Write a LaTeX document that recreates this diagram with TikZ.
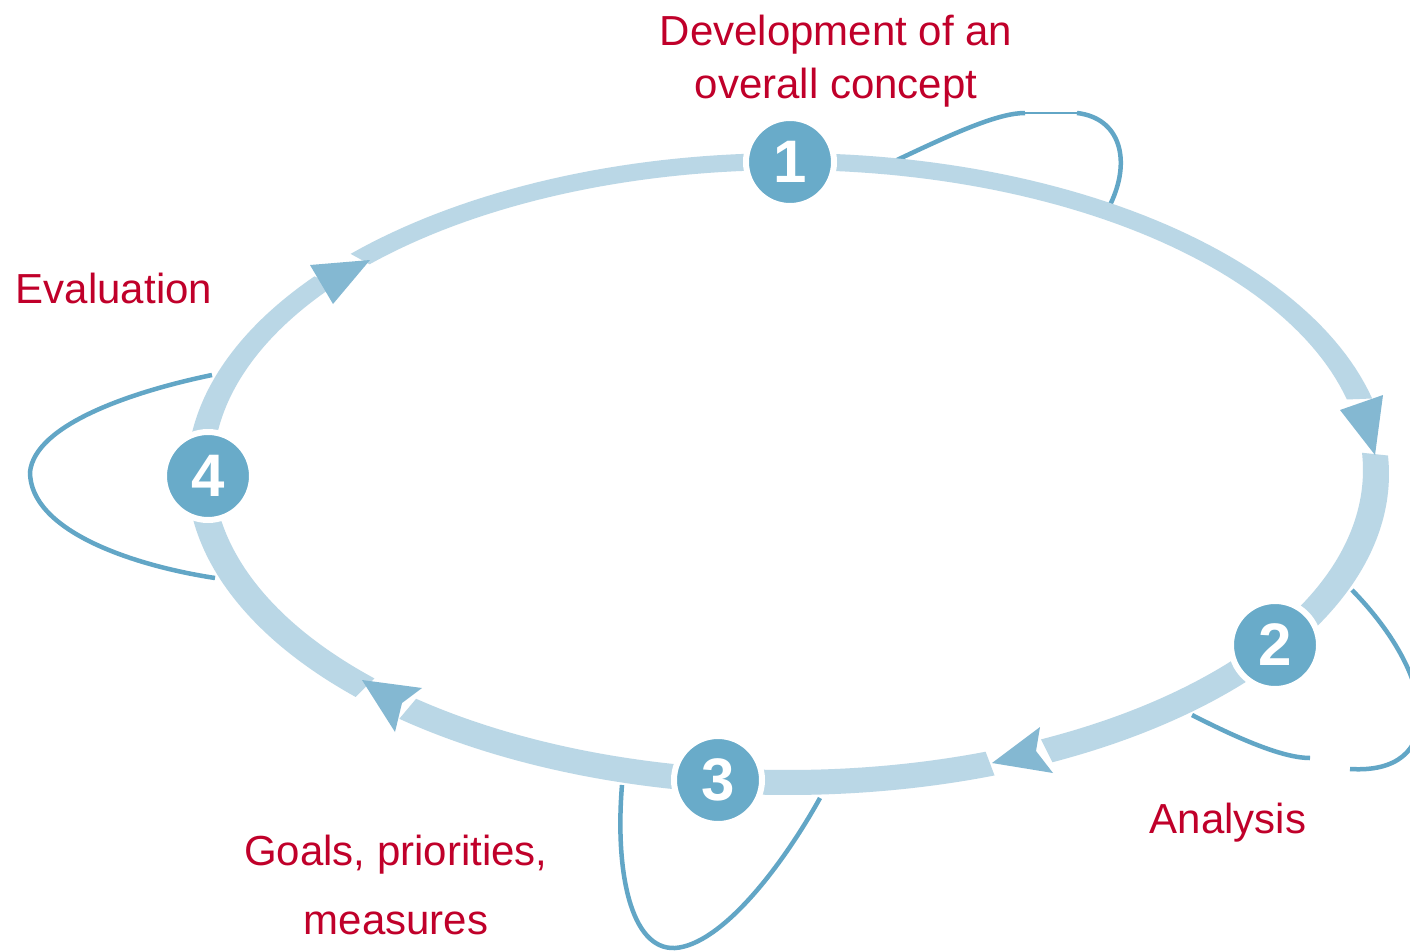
\documentclass[tikz,border=0pt]{standalone}
\usepackage{fontspec}
\setmainfont{Liberation Sans}
\definecolor{band}{HTML}{BAD7E6}
\definecolor{circ}{HTML}{69ABC9}
\definecolor{arrowc}{HTML}{84B8D2}
\definecolor{loopc}{HTML}{62A6C6}
\definecolor{lbl}{HTML}{C0002A}
\newcommand\bandseg[2]{\fill[band] plot[domain=#1:#2,samples=90] ({788+601*cos(\x)},{474+321*sin(\x)}) -- plot[domain=#2:#1,samples=90] ({788+575*cos(\x)},{470+300*sin(\x)}) -- cycle;}
\tikzset{
  numc/.style={circle, fill=circ, draw=white, line width=6pt, minimum size=88pt, inner sep=0pt, text=white, font=\fontsize{60}{60}\selectfont\bfseries},
  loopline/.style={draw=loopc, line width=4.5pt},
  arrowtri/.style={fill=arrowc},
  lbltext/.style={text=lbl, font=\fontsize{42}{42}\selectfont, inner sep=0pt, anchor=base}
}
\begin{document}
\begin{tikzpicture}[x=1pt,y=-1pt]
\useasboundingbox (0,0) rectangle (1410,950);
\clip (0,0) rectangle (1410,950);
\fill[white] (0,0) rectangle (1410,950);
% loop end points
\coordinate (l1a) at (897,160);
\coordinate (l1b) at (1025,113);
\coordinate (l1c) at (1077,113);
\coordinate (l1d) at (1110,205);
\coordinate (l2a) at (1192,715);
\coordinate (l2b) at (1310,758);
\coordinate (l2c) at (1350,769);
\coordinate (l2d) at (1352,590);
\coordinate (l3a) at (622,785);
\coordinate (l3b) at (675,948);
\coordinate (l3c) at (820,798);
\coordinate (l4a) at (212,375);
\coordinate (l4b) at (30,472);
\coordinate (l4c) at (215,578);
% loops
\draw[loopline] (l1a) .. controls (960,130) and (1000,113) .. (l1b);
\draw[draw=loopc, line width=2.5pt] (l1b) -- (l1c);
\draw[loopline] (l1c) .. controls (1120,118) and (1132,160) .. (l1d);
\draw[loopline] (l2a) .. controls (1245,742) and (1285,758) .. (l2b);
\draw[loopline] (l2c) .. controls (1445,775) and (1440,680) .. (l2d);
\draw[loopline] (l3a) .. controls (615,870) and (630,950) .. (l3b) .. controls (720,945) and (780,870) .. (l3c);
\draw[loopline] (l4a) .. controls (130,392) and (35,425) .. (l4b) .. controls (30,530) and (130,565) .. (l4c);
% band
\bandseg{-136.7}{-13.6}
\bandseg{-3.3}{63.9}
\bandseg{69.9}{130.3}
\bandseg{136}{218}
% arrowheads
\fill[arrowtri] (310,265) -- (370,260) -- (333,304) -- cycle;
\fill[arrowtri] (1340,410) -- (1383,395) -- (1375,455) -- cycle;
\fill[arrowtri] (992,763) -- (1040,727) -- (1036,751) -- (1053,773) -- cycle;
\fill[arrowtri] (362,680) -- (422,688) -- (402,703) -- (395,732) -- cycle;
% numbered circles
\node[numc] (n1) at (790,162) {1};
\node[numc] (n2) at (1275,645) {2};
\node[numc] (n3) at (718,780) {3};
\node[numc] (n4) at (208,476) {4};
% labels
\node[lbltext] (t1a) at (836,46) {Development of an};
\node[lbltext] (t1b) at (836,98) {overall concept};
\node[lbltext] (t4) at (114,303) {Evaluation};
\node[lbltext] (t2) at (1228,833) {Analysis};
\node[lbltext] (t3a) at (396,865) {Goals, priorities,};
\node[lbltext] (t3b) at (396,934) {measures};
\end{tikzpicture}
\end{document}
